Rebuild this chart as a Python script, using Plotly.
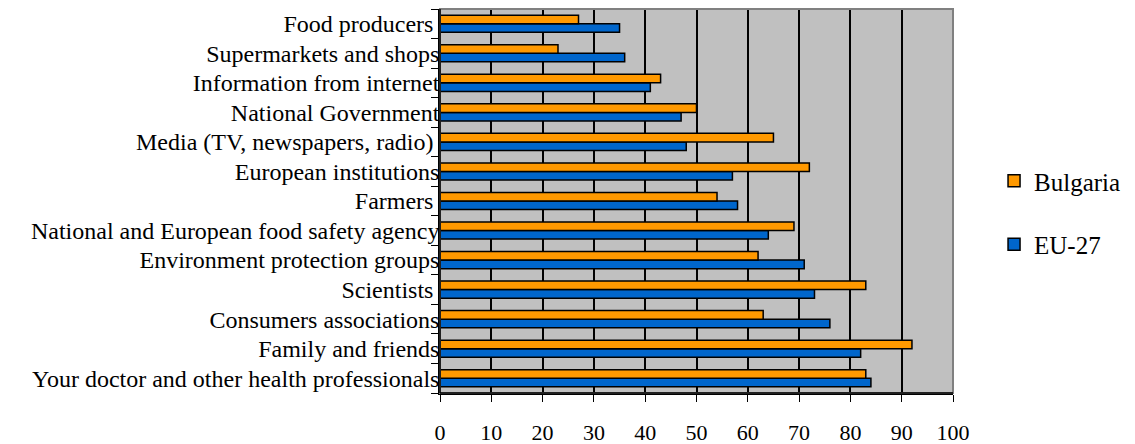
import plotly.graph_objects as go

NB = "\u00a0"
categories = [
    "Your doctor and other health professionals",
    "Family and friends",
    "Consumers associations",
    "Scientists" + NB,
    "Environment protection groups",
    "National and European food safety agency",
    "Farmers" + NB,
    "European institutions",
    "Media (TV, newspapers, radio)" + NB,
    "National Government",
    "Information from internet",
    "Supermarkets and shops",
    "Food producers" + NB,
]
bulgaria = [83, 92, 63, 83, 62, 69, 54, 72, 65, 50, 43, 23, 27]
eu27 = [84, 82, 76, 73, 71, 64, 58, 57, 48, 47, 41, 36, 35]
x_ticks = [0, 10, 20, 30, 40, 50, 60, 70, 80, 90, 100]

FONT = "Liberation Serif, Times New Roman, serif"

fig = go.Figure()
fig.add_trace(go.Bar(
    y=categories, x=eu27, name="EU-27", orientation="h",
    marker=dict(color="#0066CC", line=dict(color="black", width=1.5)),
    legendgroup="eu", legendrank=2,
))
fig.add_trace(go.Bar(
    y=categories, x=bulgaria, name="Bulgaria", orientation="h",
    marker=dict(color="#FF9900", line=dict(color="black", width=1.5)),
    legendgroup="bg", legendrank=1,
))

fig.update_layout(
    width=1135, height=444,
    margin=dict(l=440, r=182, t=9, b=51),
    barmode="group", bargap=0.42, bargroupgap=0,
    plot_bgcolor="#C0C0C0", paper_bgcolor="white",
    font=dict(family=FONT, size=24, color="black"),
    legend=dict(
        x=1.08, y=0.47, xanchor="left", yanchor="middle",
        traceorder="grouped", tracegroupgap=28,
        font=dict(family=FONT, size=25), itemwidth=30,
        bgcolor="rgba(0,0,0,0)",
    ),
    showlegend=True,
)
fig.update_xaxes(
    range=[0, 100], tickvals=x_ticks, ticktext=[str(v) for v in x_ticks],
    showgrid=True, gridcolor="black", gridwidth=1.5,
    showline=True, linecolor="black", linewidth=1.5,
    ticks="outside", ticklen=7, tickcolor="black",
    ticklabelstandoff=12, automargin=False,
    tickfont=dict(family=FONT, size=22),
    zeroline=False, fixedrange=True,
)
fig.update_yaxes(
    type="category", categoryorder="array", categoryarray=categories,
    showline=True, linecolor="black", linewidth=1.5,
    ticks="outside", ticklen=7, tickcolor="black", tickson="boundaries",
    showgrid=False, ticklabelstandoff=-6, automargin=False,
    tickfont=dict(family=FONT, size=24),
)
fig.add_shape(type="rect", xref="paper", yref="paper", x0=0, y0=0, x1=1, y1=1,
              line=dict(color="#808080", width=2), layer="above")
fig.add_shape(type="line", xref="paper", yref="paper", x0=0, y0=0, x1=0, y1=1,
              line=dict(color="black", width=1.5), layer="above")
fig.add_shape(type="line", xref="paper", yref="paper", x0=0, y0=0, x1=1, y1=0,
              line=dict(color="black", width=1.5), layer="above")

fig.write_html("out.html")
